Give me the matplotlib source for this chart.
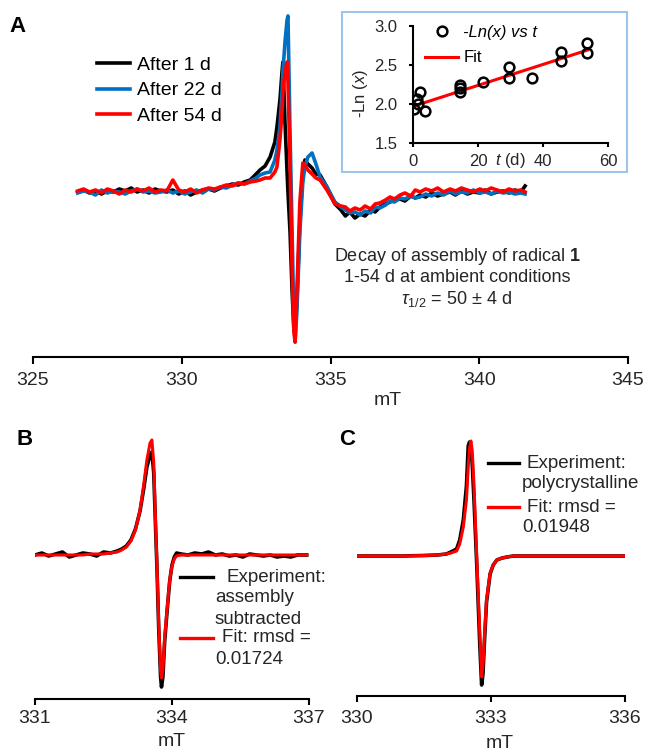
import matplotlib.pyplot as plt
from matplotlib.lines import Line2D
from matplotlib.patches import Rectangle

plt.rcParams['font.family'] = ['Liberation Sans', 'DejaVu Sans']
plt.rcParams['mathtext.fontset'] = 'custom'
plt.rcParams['mathtext.rm'] = 'Liberation Sans'
plt.rcParams['mathtext.it'] = 'Liberation Sans:italic'
plt.rcParams['mathtext.bf'] = 'Liberation Sans:bold'

# ---- panel A: spectra after 1, 22 and 54 days (field in mT, intensity arb.)
field_a = [326.5, 326.7, 326.9, 327.1, 327.3, 327.5, 327.7, 327.9, 328.1, 328.3,
           328.5, 328.7, 328.9, 329.1, 329.3, 329.5, 329.7, 329.9, 330.1, 330.3,
           330.5, 330.7, 330.9, 331.1, 331.3, 331.5, 331.7, 331.9, 332.1, 332.3, 332.5,
           332.63, 332.8, 332.97, 333.13, 333.2, 333.3, 333.37, 333.4, 333.47, 333.54,
           333.57, 333.64, 333.71, 333.77, 333.81, 333.87, 333.97, 334.07, 334.14, 334.24,
           334.38, 334.51, 334.65, 334.88,
           335.15, 335.35, 335.5, 335.65, 335.82, 336.0, 336.16, 336.35, 336.5, 336.66,
           336.85, 337.0, 337.15, 337.34, 337.5, 337.7, 337.85, 338.01, 338.2, 338.4,
           338.6, 338.8, 339.02, 339.2, 339.4, 339.6, 339.8, 340.02, 340.2, 340.4,
           340.6, 340.8, 341.0, 341.2, 341.4, 341.54]
after_1d = [0, 2, -1, 1, -2, 1, 0, 3, 1, 4, 0, 2, -1, 3, 1, 0, 2, -2, 1, -3,
            0, 2, 3, 1, 4, 6, 8, 7, 10, 12, 18,
            22, 26, 35, 50, 65, 92, 120, 130, 70, 20, 0, -40, -100, -138, -135, -110,
            -30, 18, 32, 28, 24, 18, 17, 5,
            -12, -18, -24, -20, -26, -22, -24, -18, -20, -15, -12, -10, -8, -7, -9,
            -4, -6, -3, -5, -1, -4, -2, 0, -3, 1, -2, 0, -1, 2, -2, 0, 1, -1, 2, 0, 6]
after_22d = [-1, 1, 0, -3, 2, -1, 1, 0, -2, 1, 3, 0, 1, -1, 0, 2, -1, 1, -2, 0,
             2, -1, 3, 2, 5, 4, 7, 9, 8, 11, 14,
             17, 19, 20, 32, 42, 65, 100, 120, 150, 172, 176, 60, -40, -130, -150, -120,
             -40, 10, 25, 35, 39, 28, 15, 5,
             -10, -15, -18, -21, -20, -23, -19, -21, -15, -16, -13, -9, -10, -6, -7,
             -4, -6, -5, -2, -4, -1, -3, 1, -2, 0, -1, 2, -1, 0, -2, 1, -1, 0, -2, -1, -2]
after_54d = [1, 3, 0, 2, -1, 3, 1, -2, 2, 0, 3, 1, 4, 0, 2, 1, 12, 2, 0, 3,
             -1, 2, 4, 3, 5, 7, 6, 9, 8, 10, 11,
             12, 14, 14, 20, 25, 52, 80, 100, 120, 130, 110, 30, -80, -140, -150, -100,
             -10, 29, 27, 22, 18, 14, 12, 2,
             -12, -14, -15, -19, -16, -18, -14, -17, -12, -11, -8, -5, -7, -3, -1,
             -4, 2, 0, 3, 1, 4, 0, 3, 1, 4, 2, 0, 3, 1, 4, 2, 0, 3, 1, 2, 0]

# inset: -Ln(x) vs t
t_days = [0.2, 1.2, 1.5, 2.3, 3.6, 14.6, 14.6, 14.6, 21.5, 29.6, 29.6, 36.6, 45.4, 45.4, 53.6, 53.6]
neg_ln_x = [1.93, 2.06, 2.00, 2.15, 1.91, 2.24, 2.20, 2.16, 2.28, 2.48, 2.33, 2.33, 2.67, 2.55, 2.78, 2.66]
fit_t = [0, 53.6]
fit_y = [1.97, 2.69]

# ---- panel B: assembly subtracted
field_b = [331.0, 331.15, 331.3, 331.45, 331.6, 331.75, 331.9, 332.05, 332.2, 332.35,
           332.5, 332.65, 332.8, 332.9, 333.0, 333.1, 333.2, 333.3, 333.38, 333.45,
           333.52, 333.56, 333.6, 333.64, 333.67, 333.71, 333.75, 333.77, 333.8, 333.84,
           333.9, 333.95, 334.0, 334.05, 334.1, 334.2, 334.35, 334.5, 334.65, 334.8,
           334.95, 335.1, 335.25, 335.4, 335.55, 335.7, 335.85, 336.0, 336.15, 336.3,
           336.45, 336.6, 336.75, 336.95]
exp_b = [0, 2, -1, 1, 3, -2, 0, 2, 1, -1, 3, 2, 4, 6, 9, 15, 26, 44, 66, 88,
         100, 103, 82, 28, -12, -75, -122, -132, -122, -86, -52, -26, -10, -2, 2, 1,
         0, 2, 1, 3, 0, 1, -1, 0, -2, 1, 0, -1, 0, -2, -1, -2, 0, 0]
fit_b = [0, 0, 0, 0, 0, 0, 0, 0, 1, 1, 1, 2, 3, 5, 8, 14, 25, 45, 70, 95,
         112, 115, 92, 32, -8, -70, -115, -123, -115, -82, -50, -25, -11, -4, -1, 0,
         0, 0, 0, 0, 0, 0, 0, 0, 0, 0, 0, 0, 0, 0, 0, 0, 0, 0]

# ---- panel C: polycrystalline
field_c = [330.0, 330.5, 331.0, 331.5, 331.8, 332.0, 332.1, 332.23, 332.3, 332.38,
           332.45, 332.49, 332.52, 332.55, 332.58, 332.62, 332.68, 332.72, 332.75, 332.79,
           332.82, 332.86, 332.9, 332.98, 333.05, 333.13, 333.25, 333.36, 333.5, 334.0,
           334.5, 335.0, 335.5, 336.0]
exp_c = [0, 0, 0, 0.5, 1, 2, 4, 7, 16, 36, 70, 110, 114, 108, 92, 55, -8, -55, -90, -129,
         -118, -80, -46, -18, -9, -4, -2, -1, 0, 0, 0, 0, 0, 0]
fit_c = [0, 0, 0, 0.5, 1, 2, 3, 5, 12, 29, 56, 89, 108, 115, 105, 70, 0, -45, -77, -121,
         -110, -75, -44, -17, -9, -4, -2, -1, 0, 0, 0, 0, 0, 0]

W, H = 648, 751
TXT = '#262626'
BLUE = '#0070c0'
RED = '#ff0000'

fig = plt.figure(figsize=(W / 100, H / 100), dpi=100)


def box(left, top, right, bottom):
    return [left / W, 1 - bottom / H, (right - left) / W, (bottom - top) / H]


def spectrum_axes(rect, xlim, ticks, ylim, pad, ticklen):
    ax = fig.add_axes(rect)
    ax.set_xlim(*xlim)
    ax.set_ylim(*ylim)
    ax.set_xticks(ticks)
    ax.set_yticks([])
    for s in ['left', 'right', 'top']:
        ax.spines[s].set_visible(False)
    ax.spines['bottom'].set_linewidth(1.5)
    ax.tick_params(axis='x', direction='out', length=ticklen, width=1.5,
                   labelsize=14, pad=pad, labelcolor=TXT)
    ax.patch.set_alpha(0)
    return ax


def legend_row(y, x0, x1, color, lines, xt):
    fig.add_artist(Line2D([x0 / W, x1 / W], [1 - y / H, 1 - y / H], color=color,
                          lw=2.4, transform=fig.transFigure))
    for i, (s, dx) in enumerate(lines):
        fig.text((xt + dx) / W, 1 - (y + 21 * i) / H, s, fontsize=13.5, color=TXT,
                 ha='left', va='center')


# ---------------- A
axA = spectrum_axes(box(33, 5, 628, 357), (325, 345), [325, 330, 335, 340, 345],
                    (-165, 187), 6, 5)
axA.plot(field_a, after_1d, color='black', lw=2.6, label='After 1 d')
axA.plot(field_a, after_22d, color=BLUE, lw=2.6, label='After 22 d')
axA.plot(field_a, after_54d, color=RED, lw=2.6, label='After 54 d')
axA.set_xlabel('mT', fontsize=14, color=TXT)
axA.xaxis.label.set_va('center')
axA.xaxis.set_label_coords((388 - 33) / 595, -(400 - 357) / 352)
axA.legend(loc='upper left', bbox_to_anchor=(97 / W, 1 - 56 / H),
           bbox_transform=fig.transFigure, frameon=False, fontsize=14,
           handlelength=1.7, handletextpad=0.35, labelspacing=0.42,
           borderpad=0, borderaxespad=0)

fig.text(457 / W, 1 - 256 / H, r'Decay of assembly of radical $\mathbf{1}$',
         fontsize=13, color=TXT, ha='center', va='center')
fig.text(457 / W, 1 - 278 / H, '1-54 d at ambient conditions',
         fontsize=13, color=TXT, ha='center', va='center')
fig.text(457 / W, 1 - 299 / H, r'$\tau_{1/2}$ = 50 ± 4 d',
         fontsize=13, color=TXT, ha='center', va='center')

# inset
fig.add_artist(Rectangle((342 / W, 1 - 172 / H), (627 - 342) / W, (172 - 12) / H,
                         transform=fig.transFigure, facecolor='white',
                         edgecolor='#9dc3e6', lw=1.5, zorder=0.5))
axI = fig.add_axes(box(413, 26, 608, 143))
axI.set_zorder(1)
axI.patch.set_alpha(0)
axI.plot(t_days, neg_ln_x, 'o', ms=7, mfc='none', mec='black', mew=1.8,
         label=r'-Ln(x) vs t', zorder=3)
axI.plot(fit_t, fit_y, color=RED, lw=2.2, label='Fit', zorder=2)
axI.set_xlim(0, 60)
axI.set_ylim(1.5, 3.0)
axI.set_xticks([0, 20, 40, 60])
axI.set_yticks([1.5, 2.0, 2.5, 3.0])
axI.set_yticklabels(['1.5', '2.0', '2.5', '3.0'])
for s in ['right', 'top']:
    axI.spines[s].set_visible(False)
for s in ['left', 'bottom']:
    axI.spines[s].set_linewidth(1.5)
axI.tick_params(axis='x', direction='out', length=3, width=1.5, labelsize=12,
                pad=5, labelcolor=TXT)
axI.tick_params(axis='y', direction='out', length=3, width=1.5, labelsize=12,
                pad=8, labelcolor=TXT)
axI.set_xlabel(r'$\it{t}$ (d)', fontsize=12, color=TXT)
axI.xaxis.label.set_va('center')
axI.xaxis.set_label_coords((510 - 413) / 195, -(160 - 143) / 117)
axI.set_ylabel(r'-Ln ($\it{x}$)', fontsize=12, color=TXT)
axI.yaxis.label.set_va('center')
axI.yaxis.set_label_coords((360 - 413) / 195, (143 - 93) / 117)
legI = axI.legend(loc='upper left', bbox_to_anchor=(425 / W, 1 - 25 / H),
                  bbox_transform=fig.transFigure, frameon=False, fontsize=12,
                  handlelength=2.0, handletextpad=0.3, labelspacing=0.62,
                  borderpad=0, borderaxespad=0, numpoints=1)
legI.get_texts()[0].set_fontstyle('italic')

# ---------------- B
axB = spectrum_axes(box(35, 420, 309, 699), (331, 337), [331, 334, 337],
                    (-144, 135), 4, 4)
axB.plot(field_b, exp_b, color='black', lw=2.6)
axB.plot(field_b, fit_b, color=RED, lw=2.2)
axB.set_xlabel('mT', fontsize=14, color=TXT)
axB.xaxis.label.set_va('center')
axB.xaxis.set_label_coords(0.5, -(742 - 699) / 279)
legend_row(577, 180, 213, 'black', [('Experiment:', 12), ('assembly', 0), ('subtracted', 0)], 215)
legend_row(638, 180, 213, RED, [('Fit: rmsd =', 7), ('0.01724', 0)], 215)

# ---------------- C
axC = spectrum_axes(box(357, 420, 625, 696), (330, 336), [330, 333, 336],
                    (-140, 136), 6, 4)
axC.plot(field_c, exp_c, color='black', lw=2.6)
axC.plot(field_c, fit_c, color=RED, lw=2.2)
axC.set_xlabel('mT', fontsize=14, color=TXT)
axC.xaxis.label.set_va('center')
axC.xaxis.set_label_coords((500 - 357) / 268, -(744 - 696) / 276)
legend_row(463, 488, 519, 'black', [('Experiment:', 5), ('polycrystalline', 0)], 522)
legend_row(507, 488, 519, RED, [('Fit: rmsd =', 5), ('0.01948', 0)], 522)

# panel letters
for letter, x, y in [('A', 18, 27), ('B', 25, 440), ('C', 347, 440)]:
    fig.text(x / W, 1 - y / H, letter, fontsize=16, fontweight='bold',
             ha='center', va='center')

fig.savefig('out.png', dpi=100)
